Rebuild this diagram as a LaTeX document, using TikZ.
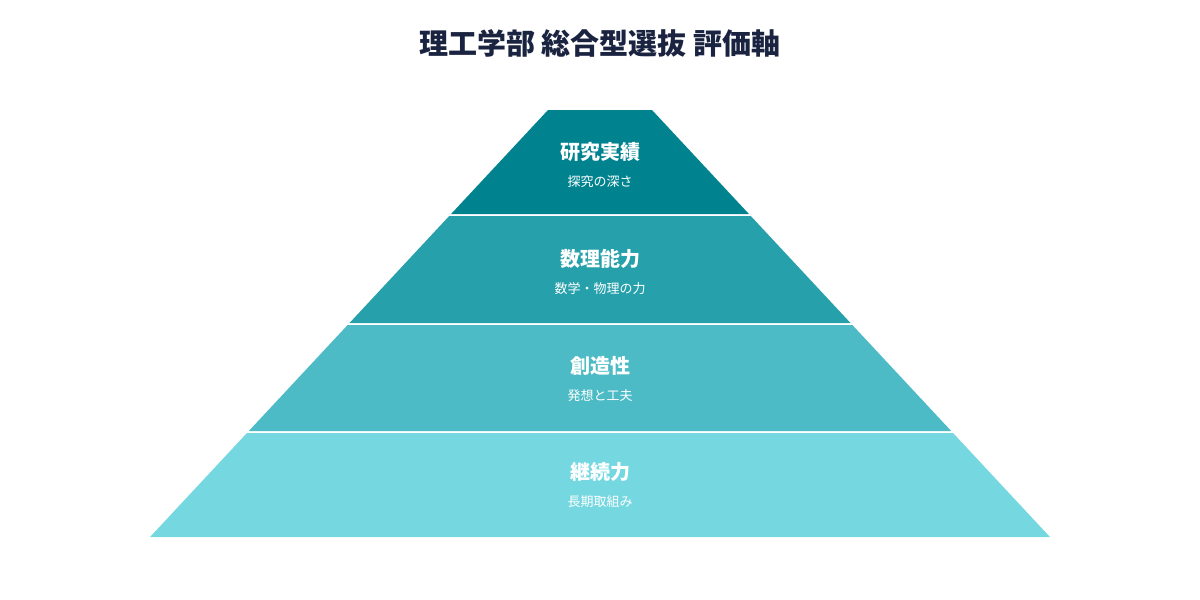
\documentclass[tikz,border=0pt]{standalone}
\usepackage{fontspec}
\newfontfamily\cjk{Noto Sans CJK JP}
\usetikzlibrary{positioning}
\definecolor{tierone}{HTML}{00838F}
\definecolor{tiertwo}{HTML}{26A0AA}
\definecolor{tierthree}{HTML}{4DBBC6}
\definecolor{tierfour}{HTML}{75D8E0}
\definecolor{titleblue}{HTML}{1A2340}
\tikzset{
  tiertitle/.style={font=\cjk\bfseries\fontsize{10}{12}\selectfont, text=white},
  tiersub/.style={font=\cjk\fontsize{6.5}{8}\selectfont, text=white},
  pagetitle/.style={font=\cjk\bfseries\fontsize{14.5}{17}\selectfont, text=titleblue}
}
\begin{document}
\begin{tikzpicture}[x=0.5pt,y=-0.5pt]
  \useasboundingbox (0,0) rectangle (1200,600);
  \node[pagetitle] (title) at (600,43) {理工学部 総合型選抜 評価軸};
  % tiers: top y / bottom y / colour
  \foreach \t/\b/\c in {110/214/tierone, 216/323/tiertwo, 325/431/tierthree, 433/537/tierfour}{
    \pgfmathsetmacro{\ht}{52+0.932*(\t-110)}
    \pgfmathsetmacro{\hb}{52+0.932*(\b-110)}
    \fill[\c] (600-\ht,\t) -- (600+\ht,\t) -- (600+\hb,\b) -- (600-\hb,\b) -- cycle;
  }
  \node[tiertitle] (t1) at (600,152) {研究実績};
  \node[tiersub, below=0pt of t1] (s1) {探究の深さ};
  \node[tiertitle] (t2) at (600,259) {数理能力};
  \node[tiersub, below=0pt of t2] (s2) {数学・物理の力};
  \node[tiertitle] (t3) at (600,366) {創造性};
  \node[tiersub, below=0pt of t3] (s3) {発想と工夫};
  \node[tiertitle] (t4) at (600,472) {継続力};
  \node[tiersub, below=0pt of t4] (s4) {長期取組み};
\end{tikzpicture}
\end{document}
